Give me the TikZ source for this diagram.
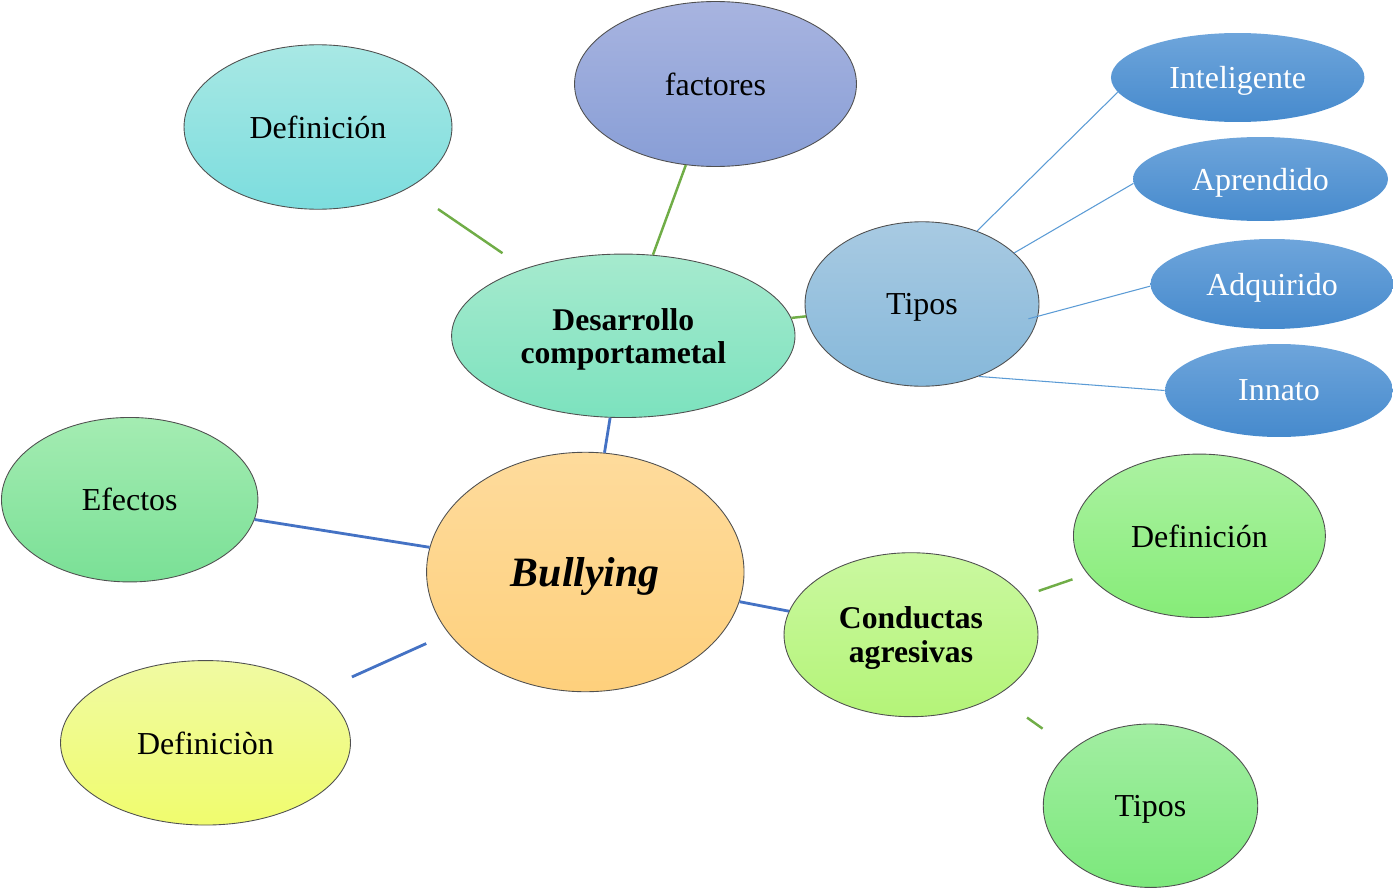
\documentclass[tikz,border=0pt]{standalone}
\usepackage{fontspec}
\setmainfont{Liberation Serif}
\usepackage{tikz}
\usetikzlibrary{shapes.geometric,positioning,calc}

\definecolor{rand}{RGB}{80,80,80}
\definecolor{linieGruen}{RGB}{112,173,71}
\definecolor{linieBlau}{RGB}{68,114,196}
\definecolor{linieHell}{RGB}{91,155,213}
%Farbverlauf der Blasen: oben / unten
\definecolor{defAo}{RGB}{168,232,228}  \definecolor{defAu}{RGB}{124,221,222}
\definecolor{fakto}{RGB}{168,180,224}  \definecolor{faktu}{RGB}{136,158,214}
\definecolor{desaro}{RGB}{166,234,206} \definecolor{desaru}{RGB}{124,226,190}
\definecolor{tipAo}{RGB}{168,202,226}  \definecolor{tipAu}{RGB}{134,184,218}
\definecolor{blauo}{RGB}{110,165,219}  \definecolor{blauu}{RGB}{70,138,205}
\definecolor{efeko}{RGB}{164,236,178}  \definecolor{efeku}{RGB}{122,224,150}
\definecolor{bullyo}{RGB}{254,219,156} \definecolor{bullyu}{RGB}{254,208,124}
\definecolor{defCo}{RGB}{240,250,162}  \definecolor{defCu}{RGB}{240,252,110}
\definecolor{kondo}{RGB}{202,248,160}  \definecolor{kondu}{RGB}{180,244,120}
\definecolor{defBo}{RGB}{172,242,162}  \definecolor{defBu}{RGB}{134,236,120}
\definecolor{tipBo}{RGB}{162,238,162}  \definecolor{tipBu}{RGB}{124,232,124}

\tikzset{
  blase/.style n args={4}{ellipse,draw=rand,line width=0.5pt,inner sep=0pt,text depth=0pt,
    minimum width=#1,minimum height=#2,top color=#3,bottom color=#4,
    align=center,font=\fontsize{18.2}{22}\selectfont},
  fett/.style={font=\fontsize{18}{19}\selectfont\bfseries},
  blau/.style 2 args={ellipse,draw=none,inner sep=0pt,text depth=0pt,minimum width=#1,minimum height=#2,
    top color=blauo,bottom color=blauu,text=white,font=\fontsize{18.2}{22}\selectfont},
  gruen/.style={draw=linieGruen,line width=1.4pt},
  kante/.style={draw=linieBlau,line width=1.6pt},
  duenn/.style={draw=linieHell,line width=0.6pt}
}

\begin{document}
\begin{tikzpicture}[x=0.02cm,y=-0.02cm]
%Koordinaten in Pixeln des Vorbilds (1393 x 889), y nach unten
\useasboundingbox (0,0) rectangle (1393,889);
\node[blase={5.36cm}{3.29cm}{defAo}{defAu}] (defA) at (318,127) {Definición};
\node[blase={5.64cm}{3.30cm}{fakto}{faktu}] (factores) at (715.5,84) {factores};
\node[blase={6.87cm}{3.27cm}{desaro}{desaru},fett] (desarrollo) at (623.3,335.8) {Desarrollo\\comportametal};
\node[blase={4.68cm}{3.29cm}{tipAo}{tipAu}] (tiposA) at (922,304) {Tipos};
%die vier Arten rechts oben
\foreach \name/\txt/\x/\y/\w/\h in {inteligente/Inteligente/1237.7/77.5/5.07/1.78,
    aprendido/Aprendido/1260.5/179/5.10/1.68,
    adquirido/Adquirido/1272/284/4.86/1.80,
    innato/Innato/1279/390.5/4.56/1.86}{
  \node[blau={\w cm}{\h cm}] (\name) at (\x,\y) {\txt};
}
\node[blase={5.13cm}{3.29cm}{efeko}{efeku}] (efectos) at (129.7,499.7) {Efectos};
\node[blase={6.35cm}{4.79cm}{bullyo}{bullyu},font=\fontsize{23.8}{28}\selectfont\bfseries\itshape] (bullying) at (585.3,572) {Bullying};
\node[blase={5.80cm}{3.29cm}{defCo}{defCu}] (defC) at (205.5,742.8) {Definiciòn};
\node[blase={5.08cm}{3.28cm}{kondo}{kondu},fett] (conductas) at (911,634.7) {Conductas\\agresivas};
\node[blase={5.04cm}{3.27cm}{defBo}{defBu}] (defB) at (1199.4,535.8) {Definición};
\node[blase={4.29cm}{3.27cm}{tipBo}{tipBu}] (tiposB) at (1150.5,805.7) {Tipos};
%Verbindungen
\draw[gruen,shorten <=0.73cm,shorten >=0.54cm] (defA) -- (desarrollo);
\draw[gruen] (factores) -- (desarrollo);
\draw[gruen] (desarrollo) -- (tiposA);
\draw[kante] (desarrollo) -- (bullying);
\draw[kante] (efectos) -- (bullying);
\draw[kante,shorten <=0.71cm,shorten >=0.49cm] (defC) -- (bullying);
\draw[kante] (bullying) -- (conductas);
\draw[gruen,shorten <=0.32cm,shorten >=0.32cm] (conductas) -- (defB);
\draw[gruen,shorten <=0.75cm,shorten >=0.72cm] (conductas) -- (tiposB);
\draw[duenn] (tiposA.53) -- (inteligente.187);
\draw[duenn] (tiposA.29) -- (aprendido.182);
\draw[duenn,shorten <=-0.2cm] (tiposA.-6) -- (adquirido.181);
\draw[duenn] (tiposA.-52) -- (innato.west);
\end{tikzpicture}
\end{document}
